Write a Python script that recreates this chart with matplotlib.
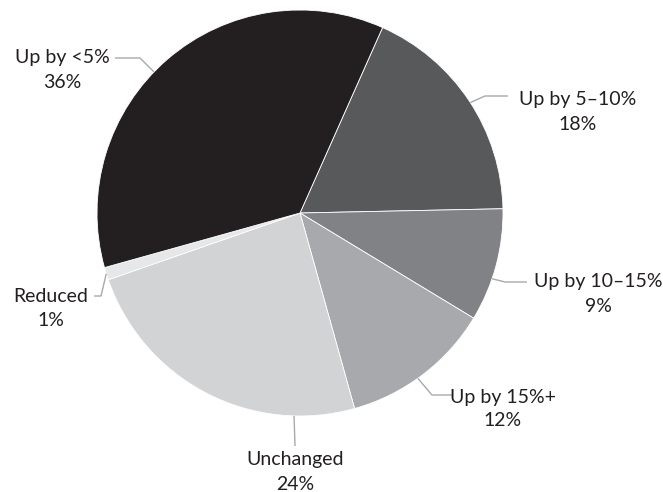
import numpy as np
import matplotlib
matplotlib.use("Agg")
import matplotlib.pyplot as plt

# Share of respondents by change, listed clockwise from the top-right slice
categories = ["Up by 5–10%", "Up by 10–15%", "Up by 15%+", "Unchanged", "Reduced", "Up by <5%"]
shares = [18, 9, 12, 24, 1, 36]
colors = ["#58595b", "#808285", "#a7a9ac", "#d1d3d4", "#e6e7e8", "#231f20"]

W, H = 663, 492
CX, CY, R = 300, 213, 203
START = 66
TEXT = "#231f20"
LINE = "#a7a9ac"
FS = 14

plt.rcParams["font.family"] = ["Lato", "DejaVu Sans"]

fig = plt.figure(figsize=(W / 100, H / 100), dpi=100)
ax = fig.add_axes([0, 0, 1, 1])

ax.pie(
    shares,
    colors=colors,
    startangle=START,
    counterclock=False,
    center=(CX, H - CY),
    radius=R,
    wedgeprops=dict(edgecolor="white", linewidth=0.6),
    frame=True,
)
ax.set_xlim(0, W)
ax.set_ylim(0, H)
ax.set_aspect("equal")
ax.axis("off")

# wedge spans (clockwise), used to place leader-line anchors on the rim
ends = START - np.cumsum(shares) / sum(shares) * 360
starts = np.concatenate([[START], ends[:-1]])

# text centre, leader points from the text side, and how far into the wedge the leader lands
labels = {
    "Up by 5–10%": dict(xy=(578, 100), frac=0.51, path=[(508, 96), (485, 96)]),
    "Up by 10–15%": dict(xy=(598, 282), frac=0.62, path=[(527, 282), (505, 282)]),
    "Up by 15%+": dict(xy=(503, 397), frac=0.54, path=[(453, 395), (432, 395)]),
    "Unchanged": dict(xy=(295, 460), frac=0.2, path=[(295, 446)]),
    "Reduced": dict(xy=(51, 296), frac=0.5, path=[(94, 296), (101, 296)]),
    "Up by <5%": dict(xy=(62, 58), frac=0.46, path=[(115, 58), (140, 58)]),
}

for cat, share, a0, a1 in zip(categories, shares, starts, ends):
    spec = labels[cat]
    ang = np.deg2rad(a0 + spec["frac"] * (a1 - a0))
    rim = (CX + R * np.cos(ang), CY - R * np.sin(ang))
    pts = spec["path"] + [rim]
    xs = [p[0] for p in pts]
    ys = [H - p[1] for p in pts]
    ax.plot(xs, ys, color=LINE, lw=1.0, solid_capstyle="butt")
    tx, ty = spec["xy"]
    ax.text(tx, H - ty, cat, ha="center", va="center", fontsize=FS, color=TEXT)
    ax.text(tx, H - ty - 24, f"{share}%", ha="center", va="center", fontsize=FS, color=TEXT)

fig.savefig("out.png", dpi=100)
